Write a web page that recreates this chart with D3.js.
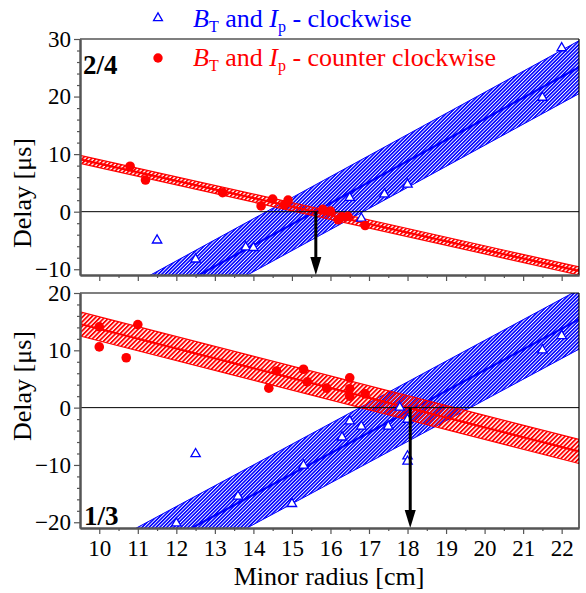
<!DOCTYPE html>
<html>
<head>
<meta charset="utf-8">
<script src="https://cdn.jsdelivr.net/npm/d3@7"></script>
<style>
  body { margin: 0; background: #fff; }
</style>
</head>
<body>
<svg id="chart"></svg>
<script>
// ---- data ----
const xTickValues = [10, 11, 12, 13, 14, 15, 16, 17, 18, 19, 20, 21, 22];
const xMinorTicks = [10.5, 11.5, 12.5, 13.5, 14.5, 15.5, 16.5, 17.5, 18.5, 19.5, 20.5, 21.5];
const topYTicks = [-10, 0, 10, 20, 30];
const topYMinor = [-8, -6, -4, -2, 2, 4, 6, 8, 12, 14, 16, 18, 22, 24, 26, 28];
const bottomYTicks = [-20, -10, 0, 10, 20];
const bottomYMinor = [-18, -16, -14, -12, -8, -6, -4, -2, 2, 4, 6, 8, 12, 14, 16, 18];

// panel 2/4 : [minor radius cm, delay us]
const topClockwise = [[11.5, -4.8], [12.5, -8.1], [13.8, -6.0], [14.0, -6.1], [16.5, 2.6],
  [16.8, -1.0], [17.4, 3.2], [18.0, 4.9], [21.5, 20.0], [22.0, 28.6]];
const topCounter = [[10.8, 7.9], [11.2, 5.5], [13.2, 3.3], [14.2, 1.0], [14.5, 2.2],
  [14.8, 1.2], [14.9, 2.0], [15.8, 0.4], [16.0, 0.1], [16.2, -1.4], [16.3, -0.9],
  [16.45, -0.8], [16.9, -2.4]];
// fit lines: [r, delay] at both ends, plus half width of the hatched band
const topClockwiseFit = [[9.5, -22.3], [22.45, 25.1]];
const topClockwiseBand = 4.6;
const topCounterFit = [[9.5, 9.1], [22.45, -10.3]];
const topCounterBand = 0.7;
const topCross = 15.62;

// panel 1/3
const bottomClockwise = [[12.0, -20.0], [12.5, -7.9], [13.6, -15.3], [15.0, -16.6], [15.3, -9.9],
  [16.3, -5.0], [16.5, -2.2], [16.8, -3.1], [17.5, -3.1], [17.8, 0.2], [18.0, -1.9],
  [18.0, -8.3], [18.0, -9.2], [21.5, 10.2], [22.0, 12.7]];
const bottomCounter = [[10.0, 14.1], [10.0, 10.6], [10.7, 8.7], [11.0, 14.5], [14.4, 3.4],
  [14.6, 6.4], [15.3, 6.7], [15.4, 4.5], [15.9, 3.4], [16.5, 5.2], [16.5, 3.3],
  [16.5, 2.0], [16.9, 2.4]];
const bottomClockwiseFit = [[9.5, -31.5], [22.45, 15.4]];
const bottomClockwiseBand = 5.2;
const bottomCounterFit = [[9.5, 14.6], [22.45, -7.65]];
const bottomCounterBand = 2.1;
const bottomCross = 18.07;

const BLUE = '#0000ff', RED = '#ff0000', AXIS = '#555';
const SERIF = '"Liberation Serif", "Times New Roman", serif';

const W = 586, H = 593;
const left = 80, right = 579;

const svg = d3.select('#chart')
  .attr('width', W).attr('height', H)
  .attr('font-family', SERIF);
const defs = svg.append('defs');

function hatch(id, color, gap, lw) {
  const p = defs.append('pattern')
    .attr('id', id)
    .attr('patternUnits', 'userSpaceOnUse')
    .attr('width', gap).attr('height', gap)
    .attr('patternTransform', 'rotate(-45)');
  p.append('rect').attr('x', 0).attr('y', 0)
    .attr('width', gap).attr('height', lw).attr('fill', color);
}
hatch('hBlue', BLUE, 2.5, 1.6);
hatch('hRed', RED, 3.2, 1.8);

const x = d3.scaleLinear().domain([9.5, 22.45]).range([left, right]);

const panels = [
  { id: 'p24', label: '2/4', top: 39, bottom: 275, yDomain: [-11, 30], ticks: topYTicks, minor: topYMinor,
    cw: topClockwise, ccw: topCounter, cwFit: topClockwiseFit, cwBand: topClockwiseBand,
    ccwFit: topCounterFit, ccwBand: topCounterBand, cross: topCross, xLabels: false,
    labelX: 83, labelY: 74, yTitle: 193 },
  { id: 'p13', label: '1/3', top: 293, bottom: 528, yDomain: [-21, 20], ticks: bottomYTicks, minor: bottomYMinor,
    cw: bottomClockwise, ccw: bottomCounter, cwFit: bottomClockwiseFit, cwBand: bottomClockwiseBand,
    ccwFit: bottomCounterFit, ccwBand: bottomCounterBand, cross: bottomCross, xLabels: true,
    labelX: 84, labelY: 525, yTitle: 386 }
];

panels.forEach(p => {
  const y = d3.scaleLinear().domain(p.yDomain).range([p.bottom, p.top]);

  defs.append('clipPath').attr('id', 'clip-' + p.id)
    .append('rect')
    .attr('x', left).attr('y', p.top)
    .attr('width', right - left).attr('height', p.bottom - p.top);

  const g = svg.append('g').attr('clip-path', `url(#clip-${p.id})`);

  // hatched fit bands
  const drawFit = (fit, hw, color, pat, edgeW, midW) => {
    const band = d3.area()
      .x(d => x(d[0]))
      .y0(d => y(d[1] - hw))
      .y1(d => y(d[1] + hw));
    g.append('path').datum(fit).attr('d', band).attr('fill', `url(#${pat})`);
    const line = off => d3.line().x(d => x(d[0])).y(d => y(d[1] + off));
    g.append('path').datum(fit).attr('d', line(hw)).attr('stroke', color).attr('stroke-width', edgeW).attr('fill', 'none');
    g.append('path').datum(fit).attr('d', line(-hw)).attr('stroke', color).attr('stroke-width', edgeW).attr('fill', 'none');
    g.append('path').datum(fit).attr('d', line(0)).attr('stroke', color).attr('stroke-width', midW).attr('fill', 'none');
  };
  drawFit(p.cwFit, p.cwBand, BLUE, 'hBlue', 1, 2.2);
  drawFit(p.ccwFit, p.ccwBand, RED, 'hRed', 1.2, 2.2);

  // zero line
  g.append('line')
    .attr('x1', left).attr('x2', right)
    .attr('y1', y(0)).attr('y2', y(0))
    .attr('stroke', '#000').attr('stroke-width', 1);

  // points
  g.selectAll('.tri').data(p.cw).join('path')
    .attr('class', 'tri')
    .attr('transform', d => `translate(${x(d[0])},${y(d[1]) + 1})`)
    .attr('d', d3.symbol(d3.symbolTriangle, 38))
    .attr('fill', '#fff').attr('stroke', BLUE).attr('stroke-width', 1.3);

  g.selectAll('.dot').data(p.ccw).join('circle')
    .attr('class', 'dot')
    .attr('cx', d => x(d[0])).attr('cy', d => y(d[1]))
    .attr('r', 4.8).attr('fill', RED);

  // arrow from the crossing point down to the axis
  const ax = x(p.cross);
  g.append('line')
    .attr('x1', ax).attr('x2', ax)
    .attr('y1', y(0)).attr('y2', p.bottom - 12)
    .attr('stroke', '#000').attr('stroke-width', 3);
  g.append('path')
    .attr('d', `M${ax - 5.5},${p.bottom - 18} L${ax + 5.5},${p.bottom - 18} L${ax},${p.bottom} Z`)
    .attr('fill', '#000');

  // frame: top and right
  svg.append('line').attr('x1', left).attr('x2', right).attr('y1', p.top).attr('y2', p.top)
    .attr('stroke', '#000').attr('stroke-width', 1.2);
  svg.append('line').attr('x1', right).attr('x2', right).attr('y1', p.top).attr('y2', p.bottom)
    .attr('stroke', '#000').attr('stroke-width', 1.2);

  // y axis
  svg.append('g').attr('class', 'axis')
    .attr('transform', `translate(${left},0)`)
    .call(d3.axisLeft(y).tickValues(p.ticks).tickSize(6).tickSizeOuter(0).tickPadding(3));
  svg.append('g').attr('class', 'axis minor')
    .attr('transform', `translate(${left},0)`)
    .call(d3.axisLeft(y).tickValues(p.minor).tickSize(3).tickSizeOuter(0).tickFormat(''));

  // x axis
  const xa = d3.axisBottom(x).tickValues(xTickValues).tickSize(6).tickSizeOuter(0).tickPadding(6);
  if (!p.xLabels) xa.tickFormat('');
  svg.append('g').attr('class', 'axis')
    .attr('transform', `translate(0,${p.bottom})`)
    .call(xa);
  svg.append('g').attr('class', 'axis minor')
    .attr('transform', `translate(0,${p.bottom})`)
    .call(d3.axisBottom(x).tickValues(xMinorTicks).tickSize(3).tickSizeOuter(0).tickFormat(''));

  // panel label
  svg.append('text')
    .attr('x', p.labelX).attr('y', p.labelY)
    .attr('font-family', SERIF)
    .attr('font-size', 27).attr('font-weight', 'bold')
    .text(p.label);

  // y title
  svg.append('text')
    .attr('transform', `translate(31,${p.yTitle}) rotate(-90)`)
    .attr('text-anchor', 'middle')
    .attr('font-family', SERIF)
    .attr('font-size', 26)
    .text('Delay [\u03bcs]');
});

svg.selectAll('.axis').attr('font-family', SERIF);
svg.selectAll('.axis path.domain').attr('stroke', AXIS).attr('stroke-width', 2);
svg.selectAll('.axis .tick line').attr('stroke', AXIS).attr('stroke-width', 1.2);
svg.selectAll('.axis .tick text')
  .attr('font-family', SERIF)
  .attr('font-size', 23).attr('fill', '#000');

// x title
svg.append('text')
  .attr('x', 329).attr('y', 585)
  .attr('text-anchor', 'middle')
  .attr('font-family', SERIF)
  .attr('font-size', 26)
  .text('Minor radius [cm]');

// legend
const legend = [
  { color: BLUE, y: 27, dir: 'clockwise', sym: 'tri' },
  { color: RED, y: 66, dir: 'counter clockwise', sym: 'dot' }
];
legend.forEach(l => {
  if (l.sym === 'tri') {
    svg.append('path')
      .attr('transform', `translate(158,${l.y - 9})`)
      .attr('d', d3.symbol(d3.symbolTriangle, 34))
      .attr('fill', '#fff').attr('stroke', l.color).attr('stroke-width', 1.3);
  } else {
    svg.append('circle').attr('cx', 158).attr('cy', l.y - 8).attr('r', 4.7).attr('fill', l.color);
  }
  const t = svg.append('text').attr('x', 193).attr('y', l.y)
    .attr('font-family', SERIF).attr('font-size', 26).attr('fill', l.color);
  t.append('tspan').attr('font-style', 'italic').text('B');
  t.append('tspan').attr('font-size', 16).attr('dy', 5).text('T');
  t.append('tspan').attr('dy', -5).text(' and ');
  t.append('tspan').attr('font-style', 'italic').text('I');
  t.append('tspan').attr('font-size', 16).attr('dy', 5).text('p');
  t.append('tspan').attr('dy', -5).text(' - ' + l.dir);
});
</script>
</body>
</html>
